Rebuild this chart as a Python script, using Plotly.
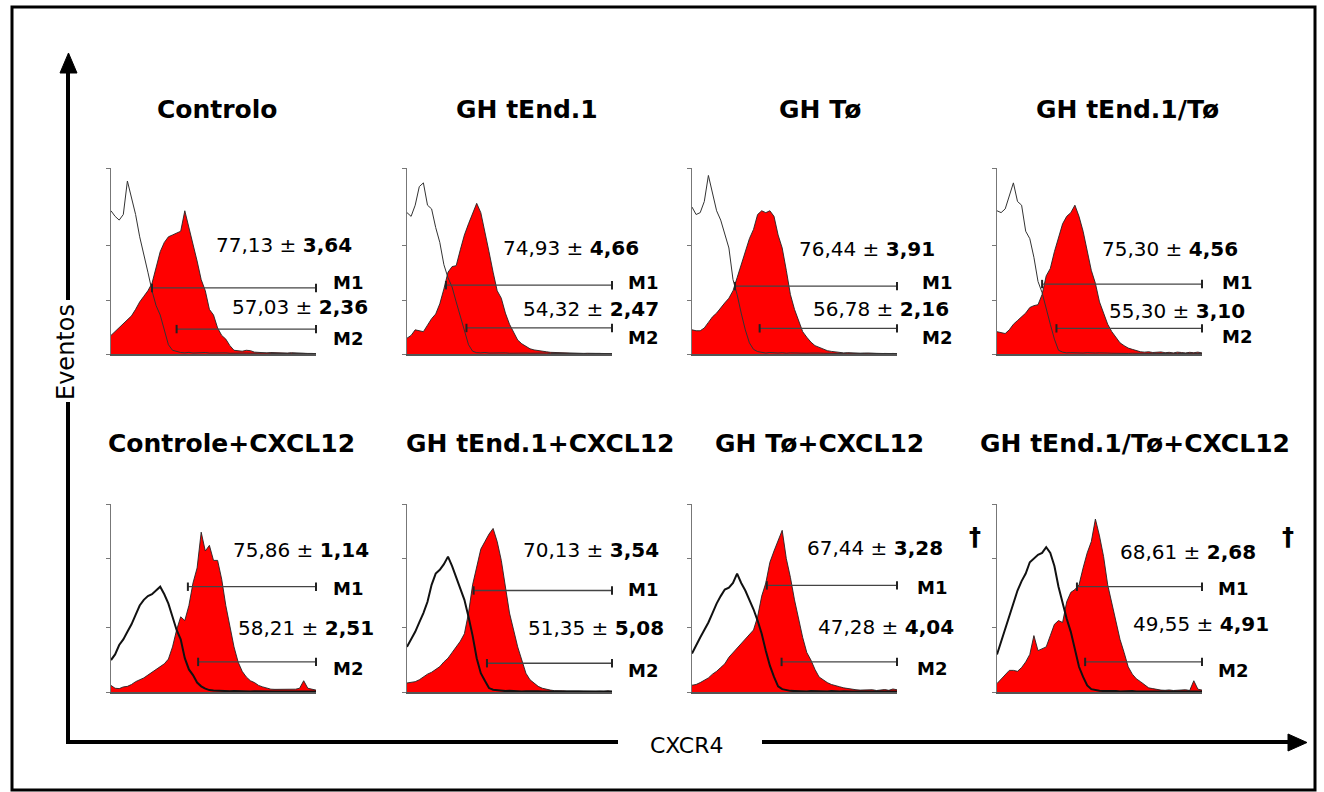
import plotly.graph_objects as go

W, H = 1324, 792

# ---------------- data ----------------
channel = list(range(0, 101, 2))  # CXCR4 fluorescence channel (relative)

titles = ["Controlo", "GH tEnd.1", "GH Tø", "GH tEnd.1/Tø",
          "Controle+CXCL12", "GH tEnd.1+CXCL12", "GH Tø+CXCL12", "GH tEnd.1/Tø+CXCL12"]

# isotype control histograms (black outline)
iso_controlo = [77, 74, 72, 75, 93, 84, 75, 63, 54, 44, 34, 26, 21, 13, 5, 2, 1.2, 0.8, 0.6, 0.9,
                0.5, 0.7, 0.6, 0.8, 0.5, 0.6, 0.7, 0.5, 0.6, 0.4, 0.5, 0.6, 0.4, 0.5, 0.4, 0.5, 0.3, 0.4, 0.5, 0.3,
                0.4, 0.3, 0.4, 0.3, 0.3, 0.4, 0.3, 0.3, 0.2, 0.3, 0.2]
iso_ghtend = [76, 74, 80, 90, 92, 80, 78, 68, 60, 48, 41, 36, 28, 20, 12, 5, 1.5, 0.7, 0.6, 0.8,
              0.5, 0.6, 0.7, 0.5, 0.6, 0.4, 0.5, 0.6, 0.4, 0.5, 0.4, 0.5, 0.3, 0.4, 0.5, 0.3, 0.4, 0.3, 0.4, 0.3,
              0.3, 0.4, 0.3, 0.3, 0.2, 0.3, 0.2, 0.3, 0.2, 0.2, 0.2]
iso_ghto = [79, 75, 76, 82, 96, 86, 77, 72, 64, 57, 40, 32, 22, 13, 6, 2.5, 1.3, 0.7, 0.5, 0.8,
            0.6, 0.5, 0.7, 0.4, 0.6, 0.5, 0.4, 0.6, 0.4, 0.5, 0.3, 0.5, 0.4, 0.3, 0.5, 0.3, 0.4, 0.3, 0.4, 0.3,
            0.3, 0.2, 0.3, 0.4, 0.2, 0.3, 0.2, 0.3, 0.2, 0.2, 0.2]
iso_ghtendto = [77, 76, 78, 85, 92, 82, 80, 66, 62, 52, 39, 33, 24, 16, 8, 2, 1, 0.6, 0.7, 0.5,
                0.6, 0.5, 0.7, 0.4, 0.5, 0.6, 0.4, 0.5, 0.4, 0.3, 0.5, 0.4, 0.3, 0.4, 0.3, 0.5, 0.3, 0.4, 0.3, 0.3,
                0.2, 0.3, 0.4, 0.2, 0.3, 0.2, 0.3, 0.2, 0.2, 0.3, 0.2]
iso_controlo_cxcl12 = [17, 20, 25, 28, 32, 36, 41, 46, 49, 51, 52, 54, 56, 52, 47, 40, 33, 28, 18, 12,
                       9, 5, 3, 1.8, 1, 0.8, 0.6, 0.5, 0.6, 0.4, 0.5, 0.4, 0.3, 0.5, 0.3, 0.4, 0.3, 0.3, 0.4, 0.3,
                       0.2, 0.3, 0.2, 0.3, 0.2, 0.2, 0.3, 0.2, 0.2, 0.2, 0.2]
iso_ghtend_cxcl12 = [24, 28, 32, 37, 42, 48, 57, 63, 65, 68, 72, 67, 61, 56, 49, 40, 30, 18, 10, 6,
                     2.1, 1.2, 0.9, 0.6, 0.5, 0.6, 0.4, 0.5, 0.3, 0.4, 0.5, 0.3, 0.4, 0.3, 0.3, 0.4, 0.2, 0.3, 0.3, 0.2,
                     0.3, 0.2, 0.2, 0.3, 0.2, 0.2, 0.2, 0.3, 0.2, 0.2, 0.2]
iso_ghto_cxcl12 = [20.5, 25, 29, 33, 37, 42, 47, 51, 54.5, 55.5, 58, 63, 58, 54, 49, 44, 38, 31, 22, 14,
                   8, 3, 1.5, 0.9, 0.6, 0.5, 0.4, 0.6, 0.3, 0.5, 0.4, 0.3, 0.4, 0.3, 0.5, 0.3, 0.3, 0.4, 0.2, 0.3,
                   0.3, 0.2, 0.3, 0.2, 0.2, 0.3, 0.2, 0.2, 0.3, 0.2, 0.2]
iso_ghtendto_cxcl12 = [20, 27, 33, 40, 48, 54, 59, 63, 69, 71, 73, 74, 77, 74, 67, 56, 47, 39, 32, 22,
                       13.4, 8, 3.5, 1.5, 0.9, 0.7, 0.5, 0.6, 0.4, 0.5, 0.3, 0.4, 0.3, 0.5, 0.3, 0.3, 0.4, 0.2, 0.3, 0.3,
                       0.2, 0.3, 0.2, 0.2, 0.3, 0.2, 0.2, 0.2, 0.3, 0.2, 0.2]

# CXCR4 stained histograms (red filled)
cxcr4_controlo = [10, 12, 14, 16, 18, 20.5, 24, 28, 31, 34, 38, 46, 55, 60, 63, 64, 65, 66, 77, 68,
                  60, 50, 40, 34, 24, 21, 14, 10, 8, 4.5, 2, 1.8, 1.5, 2, 1.8, 1, 0.8, 0.9, 0.6, 0.8,
                  0.7, 0.9, 0.6, 0.5, 0.7, 0.5, 0.4, 0.5, 0.3, 0.3, 0.2]
cxcr4_ghtend = [8.5, 10, 13, 12.5, 12, 15.5, 19, 21.5, 27, 35, 44, 47, 47.5, 56, 64, 70, 76, 81, 76, 66,
                55, 44, 34, 30, 22, 16, 11.5, 7.5, 5.5, 4, 2.8, 2.2, 2, 1.6, 1.2, 0.9, 0.8, 0.6, 0.7, 0.5,
                0.6, 0.4, 0.5, 0.3, 0.4, 0.3, 0.5, 0.3, 0.2, 0.3, 0.2]
cxcr4_ghto = [13, 12.5, 12.5, 14, 17, 20, 22, 25, 27.5, 30, 34, 41, 48, 55, 62, 67, 75, 77, 76, 77,
              74, 64, 57, 45, 32, 24, 18, 12, 9, 6.4, 4.5, 3.7, 2.5, 1.8, 1.4, 1, 0.8, 0.6, 0.7, 0.5,
              0.6, 0.4, 0.5, 0.4, 0.3, 0.4, 0.3, 0.3, 0.2, 0.3, 0.2]
cxcr4_ghtendto = [12, 11.5, 11, 13, 16, 18, 20, 22, 25, 26, 26.5, 32, 42, 46, 55, 62, 70, 74, 76, 80,
                  74, 66, 55, 45, 38, 28, 22, 16, 12, 9, 6, 4.5, 3.2, 2.5, 1.8, 1.2, 1, 1.2, 0.8, 0.9,
                  1.1, 0.7, 0.9, 0.6, 1, 0.8, 0.6, 0.9, 0.7, 1, 0.6]
cxcr4_controlo_cxcl12 = [3.5, 2, 1.8, 2.7, 3, 4, 5.5, 6.5, 7.5, 9, 10.5, 12, 13.5, 15, 17.5, 24, 33, 40, 38, 46,
                         58, 66, 85, 75, 78, 70, 70, 60, 46, 34, 24, 16, 11, 8, 6, 5, 3.5, 2.7, 2, 1.5,
                         1.4, 1.4, 1.2, 1.4, 1.2, 1.5, 2, 6, 2, 1.5, 1]
cxcr4_ghtend_cxcl12 = [4.8, 5, 5.5, 6.5, 8, 9.5, 10.5, 12, 13.5, 16, 18, 21, 24, 27, 31, 42, 57, 66, 76, 80,
                       84, 87, 80, 70, 56, 42, 33, 24, 17, 10, 6.5, 4.5, 3, 2, 1.3, 1, 0.7, 0.8, 0.6, 0.5,
                       0.6, 0.4, 0.5, 0.4, 0.3, 0.5, 0.3, 0.4, 0.3, 0.6, 0.3]
cxcr4_ghto_cxcl12 = [3.6, 4, 5, 6.2, 7.5, 9.5, 11, 13, 15, 18.5, 21, 23.5, 26, 28.5, 30.5, 33, 40, 51, 58, 69,
                     75, 81, 86, 71, 61, 49, 38, 29, 21, 17, 12, 8, 6.5, 5, 4, 3.6, 2.8, 2.2, 1.8, 1.5,
                     1.2, 1, 1.1, 0.9, 1.2, 0.8, 1, 1.3, 0.9, 1.6, 1.2]
cxcr4_ghtendto_cxcl12 = [4.5, 7, 9.5, 11.5, 11.5, 11, 13, 16, 20, 30, 22, 23, 24, 30, 36, 38, 37, 48, 53, 54.5,
                         57, 66, 74, 80, 92, 83, 72, 57, 47, 38, 28, 21, 13.4, 9.5, 7, 5.5, 4, 2.2, 1.8, 1.2,
                         1, 0.9, 1.1, 0.8, 1, 0.9, 1.2, 0.8, 6, 1.5, 1]

iso_series = [iso_controlo, iso_ghtend, iso_ghto, iso_ghtendto,
              iso_controlo_cxcl12, iso_ghtend_cxcl12, iso_ghto_cxcl12, iso_ghtendto_cxcl12]
cxcr4_series = [cxcr4_controlo, cxcr4_ghtend, cxcr4_ghto, cxcr4_ghtendto,
                cxcr4_controlo_cxcl12, cxcr4_ghtend_cxcl12, cxcr4_ghto_cxcl12, cxcr4_ghtendto_cxcl12]

# marker gates (M1 / M2): start channel and drawn level
m1_start = [20, 19, 21, 22, 37.5, 32.5, 36.5, 39]
m1_level = [35.5, 37, 36.5, 37.6, 56, 54, 56.7, 56]
m2_start = [32, 29, 33, 29, 42.5, 39, 43.7, 43]
m2_level = [13.4, 14, 13.8, 13.8, 16, 15.3, 16, 16]
gate_end = 100

# % positive cells (mean ± SD)
m1_mean = ["77,13", "74,93", "76,44", "75,30", "75,86", "70,13", "67,44", "68,61"]
m1_sd = ["3,64", "4,66", "3,91", "4,56", "1,14", "3,54", "3,28", "2,68"]
m2_mean = ["57,03", "54,32", "56,78", "55,30", "58,21", "51,35", "47,28", "49,55"]
m2_sd = ["2,36", "2,47", "2,16", "3,10", "2,51", "5,08", "4,04", "4,91"]
significant = [False, False, False, False, False, False, True, True]

for s in iso_series + cxcr4_series:
    assert len(s) == len(channel), len(s)

# ---------------- layout (pixel geometry) ----------------
col_left = [111, 407, 692, 997]
panel_w = 205
row_top = [168, 504]
row_bot = [354, 692]

title_pos = [(218, 110), (527, 110), (820, 110), (1127, 110),
             (231, 443), (540, 443), (820, 443), (1135, 443)]
pct1_pos = [(214, 245), (501, 248), (797, 249), (1100, 249), (231, 550), (521, 550), (805, 548), (1118, 552)]
pct2_pos = [(230, 307), (521, 309), (811, 309), (1107, 311), (236, 628), (526, 628), (816, 627), (1131, 624)]
m1_lab = [(331, 283), (626, 283), (920, 283), (1220, 282), (331, 588), (626, 589), (915, 587), (1216, 588)]
m2_lab = [(331, 339), (626, 338), (920, 338), (1220, 336), (331, 668), (626, 670), (915, 668), (1216, 670)]
dagger_pos = [None, None, None, None, None, None, (975, 537), (1288, 537)]


def fx(p):
    return p / W


def fy(p):
    return 1 - p / H


fig = go.Figure()
layout = dict(width=W, height=H, margin=dict(l=0, r=0, t=0, b=0),
              paper_bgcolor="white", plot_bgcolor="white", showlegend=False)
annotations = []
shapes = []

FONT = "DejaVu Sans"

for i in range(8):
    r, c = divmod(i, 4)
    sfx = "" if i == 0 else str(i + 1)
    xa, ya = "x" + sfx, "y" + sfx
    x0 = col_left[c]
    layout["xaxis" + sfx] = dict(domain=[fx(x0), fx(x0 + panel_w)], range=[0, 100], anchor=ya,
                                 showline=True, linecolor="#555", linewidth=1.5, showgrid=False,
                                 zeroline=False, showticklabels=False, ticks="", fixedrange=True)
    tv = [0, 28.5, 58.5, 100] if r == 0 else [0, 34.5, 71, 100]
    layout["yaxis" + sfx] = dict(domain=[fy(row_bot[r]), fy(row_top[r])], range=[0, 100], anchor=xa,
                                 showline=True, linecolor="#777", linewidth=1.2, showgrid=False,
                                 zeroline=False, showticklabels=False, ticks="outside", ticklen=4,
                                 tickcolor="#777", tickwidth=1, tickvals=tv, fixedrange=True)
    # red CXCR4 histogram
    fig.add_trace(go.Scatter(x=channel, y=cxcr4_series[i], xaxis=xa, yaxis=ya, mode="lines",
                             fill="tozeroy", fillcolor="#ff0000",
                             line=dict(color="#222", width=0.9), hoverinfo="skip"))
    # isotype outline
    fig.add_trace(go.Scatter(x=channel, y=iso_series[i], xaxis=xa, yaxis=ya, mode="lines",
                             line=dict(color="#111" if r else "#333", width=2.0 if r else 1.0),
                             hoverinfo="skip"))
    # gates
    for st, lv in ((m1_start[i], m1_level[i]), (m2_start[i], m2_level[i])):
        fig.add_trace(go.Scatter(x=[st, gate_end], y=[lv, lv], xaxis=xa, yaxis=ya,
                                 mode="lines+markers", cliponaxis=False,
                                 line=dict(color="#444", width=1.3),
                                 marker=dict(symbol="line-ns", size=6,
                                             line=dict(color="#222", width=2)),
                                 hoverinfo="skip"))
    # texts
    tx, ty = title_pos[i]
    annotations.append(dict(x=fx(tx), y=fy(ty), xref="paper", yref="paper", showarrow=False,
                            text="<b>%s</b>" % titles[i], xanchor="center", yanchor="middle",
                            font=dict(family=FONT, size=25, color="black")))
    for (px, py), mean, sd in ((pct1_pos[i], m1_mean[i], m1_sd[i]), (pct2_pos[i], m2_mean[i], m2_sd[i])):
        annotations.append(dict(x=fx(px), y=fy(py), xref="paper", yref="paper", showarrow=False,
                                text="%s ± <b>%s</b>" % (mean, sd), xanchor="left", yanchor="middle",
                                font=dict(family=FONT, size=20, color="black")))
    for (px, py), lab in ((m1_lab[i], "M1"), (m2_lab[i], "M2")):
        annotations.append(dict(x=fx(px), y=fy(py), xref="paper", yref="paper", showarrow=False,
                                text="<b>%s</b>" % lab, xanchor="left", yanchor="middle",
                                font=dict(family=FONT, size=18, color="black")))
    if significant[i]:
        px, py = dagger_pos[i]
        annotations.append(dict(x=fx(px), y=fy(py), xref="paper", yref="paper", showarrow=False,
                                text="<b>†</b>", xanchor="center", yanchor="middle",
                                font=dict(family=FONT, size=24, color="black")))

# axis labels
annotations.append(dict(x=fx(66), y=fy(352), xref="paper", yref="paper", showarrow=False,
                        text="Eventos", textangle=-90, xanchor="center", yanchor="middle",
                        font=dict(family=FONT, size=24, color="black")))
annotations.append(dict(x=fx(686), y=fy(745), xref="paper", yref="paper", showarrow=False,
                        text="CXCR4", xanchor="center", yanchor="middle",
                        font=dict(family=FONT, size=22, color="black")))

# frame
shapes.append(dict(type="rect", xref="paper", yref="paper", x0=fx(12), x1=fx(1315), y0=fy(790), y1=fy(7),
                   line=dict(color="black", width=3)))
# y arrow
shapes.append(dict(type="line", xref="paper", yref="paper", x0=fx(68), x1=fx(68), y0=fy(744), y1=fy(402),
                   line=dict(color="black", width=4)))
shapes.append(dict(type="line", xref="paper", yref="paper", x0=fx(68), x1=fx(68), y0=fy(300), y1=fy(70),
                   line=dict(color="black", width=4)))
shapes.append(dict(type="path", xref="paper", yref="paper",
                   path="M %f,%f L %f,%f L %f,%f Z" % (fx(60), fy(73), fx(77), fy(73), fx(68.5), fy(53)),
                   fillcolor="black", line=dict(color="black", width=1)))
# x arrow
shapes.append(dict(type="line", xref="paper", yref="paper", x0=fx(66), x1=fx(618), y0=fy(742), y1=fy(742),
                   line=dict(color="black", width=4)))
shapes.append(dict(type="line", xref="paper", yref="paper", x0=fx(762), x1=fx(1292), y0=fy(742), y1=fy(742),
                   line=dict(color="black", width=4)))
shapes.append(dict(type="path", xref="paper", yref="paper",
                   path="M %f,%f L %f,%f L %f,%f Z" % (fx(1288), fy(734), fx(1288), fy(751), fx(1307), fy(742.5)),
                   fillcolor="black", line=dict(color="black", width=1)))

layout["annotations"] = annotations
layout["shapes"] = shapes
fig.update_layout(**layout)
fig.write_html("out.html", config={"displayModeBar": False},
               post_script="document.body.style.margin='0';document.body.style.padding='0';"
                           "document.documentElement.style.overflow='hidden';")
